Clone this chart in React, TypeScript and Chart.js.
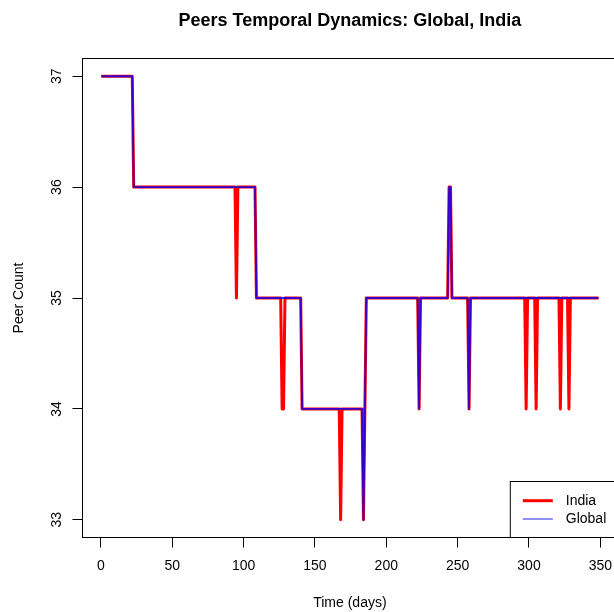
import React, { useEffect, useRef } from "react";
import { Chart, registerables } from "chart.js";

Chart.register(...registerables);

// ---- data (vertices of the day-by-day step series) ----
const indiaDays = [1, 22, 23, 94, 95, 96, 108, 109, 126, 127, 128, 129, 140, 141, 167, 168, 169, 183, 184, 186, 222, 223, 224, 243, 244, 245, 246, 257, 258, 259, 297, 298, 299, 304, 305, 306, 321, 322, 323, 327, 328, 329, 348];
const indiaPeers = [37, 37, 36, 36, 35, 36, 36, 35, 35, 34, 34, 35, 35, 34, 34, 33, 34, 34, 33, 35, 35, 34, 35, 35, 36, 36, 35, 35, 34, 35, 35, 34, 35, 35, 34, 35, 35, 34, 35, 35, 34, 35, 35];

const globalDays = [1, 22, 23, 108, 109, 140, 141, 183, 184, 186, 222, 223, 224, 243, 244, 245, 246, 257, 258, 259, 348];
const globalPeers = [37, 37, 36, 36, 35, 35, 34, 34, 33, 35, 35, 34, 35, 35, 36, 36, 35, 35, 34, 35, 35];

const xTicks = [0, 50, 100, 150, 200, 250, 300, 350];
const yTicks = [33, 34, 35, 36, 37];

const titleText = "Peers Temporal Dynamics: Global, India";
const xTitle = "Time (days)";
const yTitle = "Peer Count";
const legendLabels = ["India", "Global"];

const FONT = '"Liberation Sans", Arial, Helvetica, sans-serif';
const RED = "#ff0000";
const BLUE = "rgba(0,0,255,0.8)";
const BLUE_LEGEND = "rgba(0,0,255,0.55)";

function rRange(vals: number[]) {
  const lo = Math.min(...vals);
  const hi = Math.max(...vals);
  const pad = (hi - lo) * 0.04;
  return [lo - pad, hi + pad];
}

const boxPlugin = {
  id: "rbox",
  afterDatasetsDraw(chart: any) {
    const { ctx, chartArea } = chart;
    ctx.save();
    ctx.strokeStyle = "#000";
    ctx.lineWidth = 1;
    ctx.strokeRect(chartArea.left, chartArea.top, chartArea.right - chartArea.left, chartArea.bottom - chartArea.top);
    ctx.restore();
  },
};

const legendPlugin = {
  id: "rlegend",
  afterDraw(chart: any) {
    const { ctx, chartArea } = chart;
    const w = 107;
    const h = 56;
    const left = chartArea.right - w;
    const top = chartArea.bottom - h;
    ctx.save();
    ctx.fillStyle = "#fff";
    ctx.fillRect(left, top, w, h);
    ctx.strokeStyle = "#000";
    ctx.lineWidth = 1;
    ctx.strokeRect(left, top, w, h);
    const rows = [
      { label: legendLabels[0], color: RED, width: 3, y: top + 19.2 },
      { label: legendLabels[1], color: BLUE_LEGEND, width: 1.6, y: top + 37.5 },
    ];
    ctx.font = `14px ${FONT}`;
    ctx.textBaseline = "middle";
    ctx.textAlign = "left";
    for (const r of rows) {
      ctx.strokeStyle = r.color;
      ctx.lineWidth = r.width;
      ctx.beginPath();
      ctx.moveTo(left + 12.5, r.y);
      ctx.lineTo(left + 42.5, r.y);
      ctx.stroke();
      ctx.fillStyle = "#000";
      ctx.fillText(r.label, left + 55.5, r.y);
    }
    ctx.restore();
  },
};

export default function App() {
  const ref = useRef<HTMLCanvasElement | null>(null);
  useEffect(() => {
    if (!ref.current) return;
    const [xMin, xMax] = rRange(indiaDays.concat(globalDays));
    const [yMin, yMax] = rRange(indiaPeers.concat(globalPeers));
    const chart = new Chart(ref.current, {
      type: "line",
      data: {
        datasets: [
          {
            label: legendLabels[1],
            data: globalDays.map((d, i) => ({ x: d, y: globalPeers[i] })),
            borderColor: BLUE,
            borderWidth: 1.8,
            pointRadius: 0,
            tension: 0,
            fill: false,
            borderCapStyle: "round",
            borderJoinStyle: "round",
          },
          {
            label: legendLabels[0],
            data: indiaDays.map((d, i) => ({ x: d, y: indiaPeers[i] })),
            borderColor: RED,
            borderWidth: 3,
            pointRadius: 0,
            tension: 0,
            fill: false,
            borderCapStyle: "round",
            borderJoinStyle: "round",
          },
        ],
      },
      options: {
        responsive: false,
        animation: false,
        layout: { padding: { left: 0, right: 22.7, top: 0, bottom: 0 } },
        plugins: {
          legend: { display: false },
          tooltip: { enabled: false },
          title: {
            display: true,
            text: titleText,
            color: "#000",
            font: { family: FONT, size: 18, weight: "bold" },
            padding: { top: 10.7, bottom: 26.2 },
            fullSize: false,
          } as any,
        },
        scales: {
          x: {
            type: "linear",
            min: xMin,
            max: xMax,
            afterBuildTicks: (s: any) => {
              s.ticks = xTicks.map((v) => ({ value: v }));
            },
            afterFit: (s: any) => {
              s.height = 74.5;
            },
            grid: { drawOnChartArea: false, drawTicks: true, tickLength: 10, color: "#000", lineWidth: 1 },
            border: { display: false },
            ticks: {
              color: "#000",
              font: { family: FONT, size: 14 },
              padding: 10.6,
              maxRotation: 0,
              minRotation: 0,
              autoSkip: false,
            },
            title: {
              display: true,
              text: xTitle,
              color: "#000",
              font: { family: FONT, size: 14 },
              padding: { top: 0, bottom: 0.6 },
            },
          },
          y: {
            type: "linear",
            min: yMin,
            max: yMax,
            afterBuildTicks: (s: any) => {
              s.ticks = yTicks.map((v) => ({ value: v }));
            },
            afterFit: (s: any) => {
              s.width = 82.5;
            },
            grid: { drawOnChartArea: false, drawTicks: true, tickLength: 10, color: "#000", lineWidth: 1 },
            border: { display: false },
            ticks: {
              color: "#000",
              font: { family: FONT, size: 14 },
              padding: 7.5,
              minRotation: 90,
              maxRotation: 90,
              crossAlign: "center",
              autoSkip: false,
            },
            title: {
              display: true,
              text: yTitle,
              color: "#000",
              font: { family: FONT, size: 14 },
              padding: { top: 10.4, bottom: 0 },
            },
          },
        },
      },
      plugins: [boxPlugin, legendPlugin],
    });
    return () => chart.destroy();
  }, []);
  return (
    <div style={{ position: "fixed", left: 0, top: 0, width: 640, height: 612, background: "#fff" }}>
      <canvas ref={ref} width={640} height={612} />
    </div>
  );
}
